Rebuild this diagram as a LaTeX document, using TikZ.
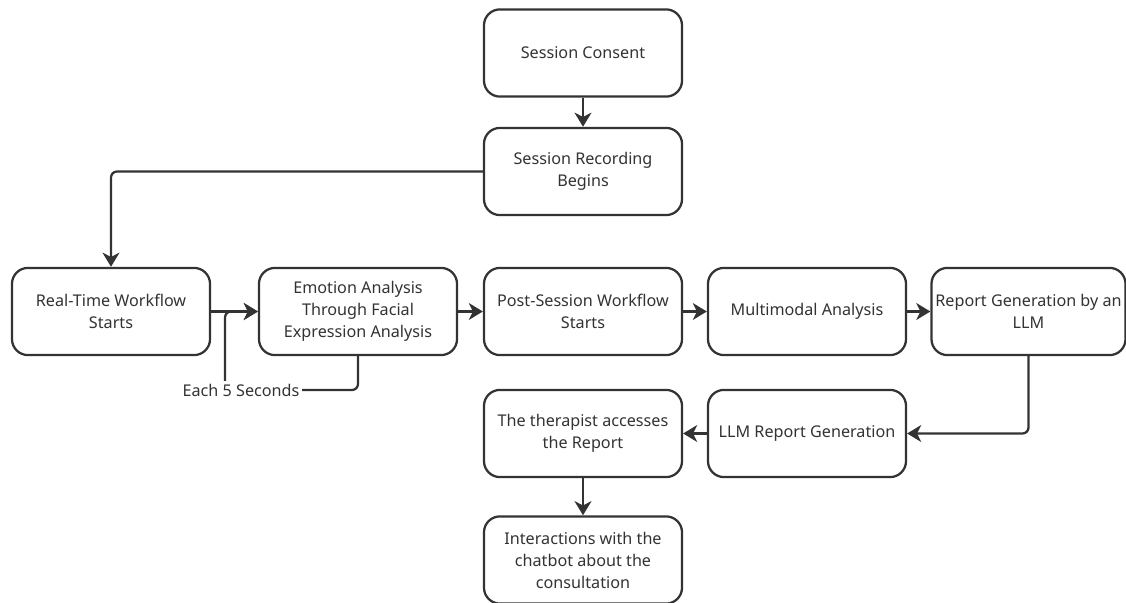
\documentclass[tikz,border=0pt]{standalone}
\usepackage{fontspec}
\setmainfont{Noto Sans}
\usepackage{xcolor}
\usepackage{tikz}
\usetikzlibrary{positioning,arrows.meta}
\definecolor{flowgray}{HTML}{333333}

\begin{document}
\begin{tikzpicture}[x=0.025cm, y=-0.025cm, font=\fontsize{11.5}{15.6}\selectfont,
    >={Stealth[length=10pt, width=12pt, inset=3pt]},
    stepbox/.style={draw=flowgray, line width=1.6pt, rounded corners=0.4cm,
                    fill=white, text=flowgray, minimum width=4.95cm,
                    minimum height=2.18cm, align=center, inner sep=1pt},
    flow/.style={->, draw=flowgray, line width=1.6pt, rounded corners=0.15cm}]
  \useasboundingbox (0,0) rectangle (1126,603);
  % process steps
  \foreach \n/\x/\y/\txt in {consent/583/53/{Session Consent},
      recording/583/171.5/{Session Recording\\Begins},
      realtime/111/311.5/{Real-Time Workflow\\Starts},
      emotion/358/311.5/{Emotion Analysis\\Through Facial\\Expression Analysis},
      post/583/311.5/{Post-Session Workflow\\Starts},
      multi/807/311.5/{Multimodal Analysis},
      llmrep/807/433.5/{LLM Report Generation},
      therapist/583/433.5/{The therapist accesses\\the Report},
      chat/583/560/{Interactions with the\\chatbot about the\\consultation}}
    \node[stepbox] (\n) at (\x,\y) {\txt};
  \node[stepbox, minimum width=4.85cm] (report) at (1028.5,311.5)
      {Report Generation by an\\LLM};
  % main flow
  \draw[flow] (consent) -- (recording);
  \draw[flow] (recording.west) -| (realtime.north);
  \draw[flow] (realtime) -- (emotion);
  \draw[flow] (emotion) -- (post);
  \draw[flow] (post) -- (multi);
  \draw[flow] (multi) -- (report);
  \draw[flow] (report.south) |- (llmrep.east);
  \draw[flow] (llmrep) -- (therapist);
  \draw[flow] (therapist) -- (chat);
  % repeated analysis loop
  \coordinate (loopturn) at (225,390);
  \draw[flow] (emotion.south) |- (loopturn) |- (emotion.west);
  \node[fill=white, text=flowgray, inner sep=2pt] (looplabel) at (241,390)
      {Each 5 Seconds};
\end{tikzpicture}
\end{document}
